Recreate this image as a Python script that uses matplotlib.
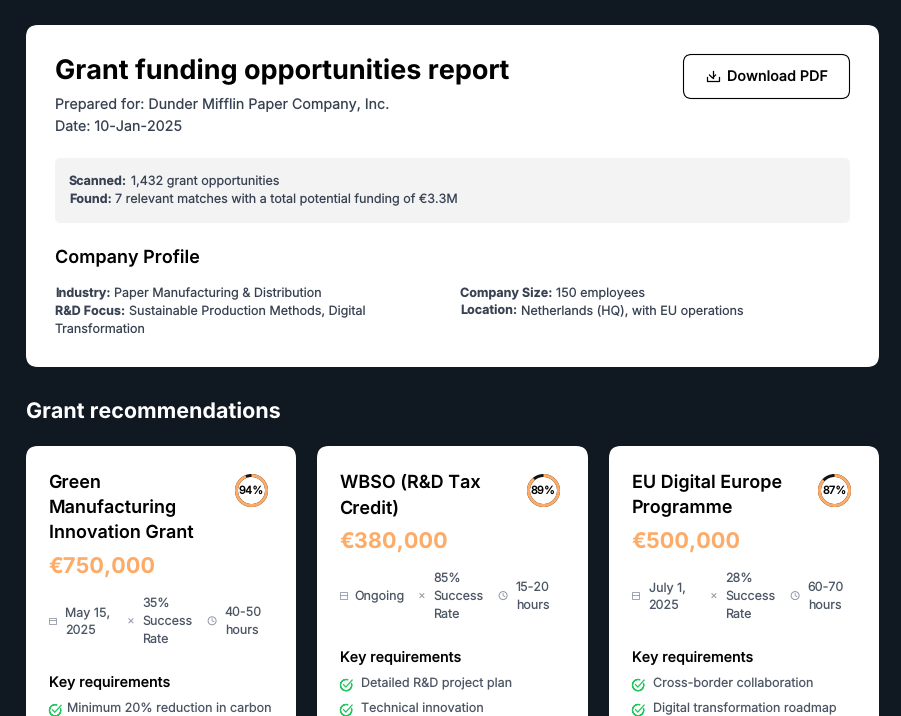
import matplotlib
matplotlib.use('Agg')
import matplotlib.pyplot as plt
from matplotlib.patches import FancyBboxPatch, Wedge, Circle, Rectangle

W, H = 901, 716

# Report header
report_title = 'Grant funding opportunities report'
prepared_for = 'Prepared for: Dunder Mifflin Paper Company, Inc.'
report_date = 'Date: 10-Jan-2025'
button_text = 'Download PDF'
section_title = 'Grant recommendations'

# Grant cards
titles = [['Green', 'Manufacturing', 'Innovation Grant'],
          ['WBSO (R&D Tax', 'Credit)'],
          ['EU Digital Europe', 'Programme']]
amounts = ['€750,000', '€380,000', '€500,000']
match_pct = [94, 89, 87]
dates = [['May 15,', '2025'], ['Ongoing'], ['July 1,', '2025']]
success = [['35%', 'Success', 'Rate'], ['85%', 'Success', 'Rate'], ['28%', 'Success', 'Rate']]
hours = [['40-50', 'hours'], ['15-20', 'hours'], ['60-70', 'hours']]
requirements = [['Minimum 20% reduction in carbon'],
                ['Detailed R&D project plan', 'Technical innovation'],
                ['Cross-border collaboration', 'Digital transformation roadmap']]

BG = '#101822'
GREY = '#374151'
MUTED = '#4b5563'
ORANGE = '#fdab67'
GREEN = '#22c55e'
ICON = '#8f96a3'

plt.rcParams['font.family'] = ['Inter', 'DejaVu Sans']
plt.rcParams['text.hinting'] = 'no_hinting'

fig = plt.figure(figsize=(W / 100, H / 100), dpi=100, facecolor=BG)
ax = fig.add_axes([0, 0, 1, 1])
ax.set_xlim(0, W)
ax.set_ylim(H, 0)
ax.axis('off')
renderer = fig.canvas.get_renderer()


def box(x, y, w, h, r, fc='white', ec='none', lw=0):
    ax.add_patch(FancyBboxPatch((x + r, y + r), w - 2 * r, h - 2 * r,
                                boxstyle='round,pad=%d,rounding_size=%d' % (r, r),
                                fc=fc, ec=ec, lw=lw))


def txt(x, y, s, px, color='black', weight='normal', **kw):
    # px sizes as in the page, baseline anchored
    return ax.text(x, y, s, fontsize=px * 0.72, color=color, fontweight=weight,
                   va='baseline', **kw)


def label_value(x, y, label, value, px=12.55):
    t = txt(x, y, label, px, GREY, 'bold')
    x2 = t.get_window_extent(renderer).x1
    txt(x2 + 3.5, y, value, px, GREY)


def check(x, y):
    ax.add_patch(Wedge((x, y), 5.6, -20, 290, width=0.01, fc='none', ec=GREEN, lw=0.9))
    ax.plot([x - 2.6, x - 0.3, x + 6], [y - 0.5, y + 2, y - 5], color=GREEN, lw=0.9)


def calendar_icon(x, y):
    ax.add_patch(Rectangle((x - 3.3, y - 3.2), 6.6, 6.6, fc='none', ec=ICON, lw=0.6))
    ax.plot([x - 3.3, x + 3.3], [y - 1, y - 1], color=ICON, lw=0.6)


def cross_icon(x, y):
    ax.plot([x - 2, x + 2], [y - 2, y + 2], color=ICON, lw=0.7)
    ax.plot([x - 2, x + 2], [y + 2, y - 2], color=ICON, lw=0.7)


def clock_icon(x, y):
    ax.add_patch(Circle((x, y), 4, fc='none', ec=ICON, lw=0.7))
    ax.plot([x, x, x + 1.8], [y - 2.2, y, y + 1], color=ICON, lw=0.6)


# Top panel
box(26, 25, 853, 342, 12)
txt(55, 79, report_title, 27.0, weight='bold')
txt(55, 109, prepared_for, 14.3, GREY)
txt(55, 131.4, report_date, 14.3, GREY)

# Download button
box(683.5, 54.5, 166, 44, 8, ec='black', lw=0.8)
ax.plot([706.5, 706.5, 718.5, 718.5], [77, 81, 81, 77], color='black', lw=0.9)
ax.plot([712.5, 712.5], [70.5, 78], color='black', lw=0.9)
ax.plot([709.5, 712.5, 715.5], [75, 78, 75], color='black', lw=0.9)
txt(727, 81, button_text, 14.4, weight='medium')

# Summary box
box(55, 158, 795, 65, 6, fc='#f3f3f3')
label_value(69, 185, 'Scanned:', '1,432 grant opportunities')
label_value(69, 203, 'Found:', '7 relevant matches with a total potential funding of €3.3M')

# Company profile
txt(55, 263, 'Company Profile', 18, weight='semibold')
label_value(55, 297, 'Industry:', 'Paper Manufacturing & Distribution')
label_value(55, 315, 'R&D Focus:', 'Sustainable Production Methods, Digital')
txt(55, 333, 'Transformation', 12.55, GREY)
label_value(460, 297, 'Company Size:', '150 employees')
label_value(460, 315, 'Location:', 'Netherlands (HQ), with EU operations')

txt(26, 418, section_title, 21.5, 'white', 'bold')

# Cards, running off the bottom of the page
for i, (left, right) in enumerate([(26, 296), (317, 588), (609, 879)]):
    box(left, 446, right - left, 300, 12)
    x = left + 22.6
    y = 488
    for line in titles[i]:
        txt(x, y, line, 18, weight='semibold')
        y += 25.2
    y -= 25.2
    amount_y = y + 35.4
    txt(x, amount_y, amounts[i], 21.7, ORANGE, 'bold')

    # match ring, filled clockwise from the top (y axis is flipped)
    cx, cy = right - 44.5, 490.5
    pct = match_pct[i]
    ax.add_patch(Wedge((cx, cy), 16.5, -90, 270, width=3, fc='#111111', ec='none'))
    ax.add_patch(Wedge((cx, cy), 16.5, -90, -90 + 360 * pct / 100, width=3, fc=ORANGE, ec='none'))
    ax.text(cx, cy + 0.5, '%d%%' % pct, fontsize=8, fontweight='medium', ha='center', va='center',
            color='black')

    # stat row, centred on the tallest column
    mid = amount_y + 47
    calendar_icon(x + 3.7, mid)
    cross_icon(x + 82.3, mid)
    clock_icon(x + 163.5, mid)
    date_x = x + [16.4, 15, 17][i]
    for col_x, lines in zip([date_x, x + 93.9, x + 176.2], [dates[i], success[i], hours[i]]):
        y0 = mid + 4.5 - 9 * (len(lines) - 1)
        for j, line in enumerate(lines):
            txt(col_x, y0 + 18 * j, line, 12.5, MUTED)

    # requirements, the single-line card sits tighter to its icon
    req_y = amount_y + 113
    req_x = x + [18.4, 21.4, 21.4][i]
    txt(x, req_y, 'Key requirements', 14.3, weight='medium')
    for k, req in enumerate(requirements[i]):
        row = req_y + 26 + 25 * k
        check(x + 6.5, row - 2.5)
        txt(req_x, row - 0.5, req, 12.55, MUTED)

fig.savefig('out.png', dpi=100, facecolor=BG)
